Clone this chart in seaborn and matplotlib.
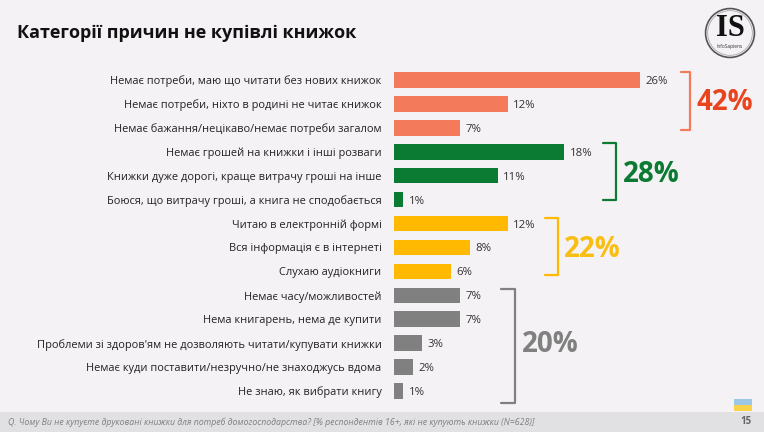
import matplotlib
matplotlib.use("Agg")
import matplotlib.pyplot as plt
from matplotlib.patches import Rectangle, Circle
import seaborn as sns
import pandas as pd

# Data
categories = [
    "Немає потреби, маю що читати без нових книжок",
    "Немає потреби, ніхто в родині не читає книжок",
    "Немає бажання/нецікаво/немає потреби загалом",
    "Немає грошей на книжки і інші розваги",
    "Книжки дуже дорогі, краще витрачу гроші на інше",
    "Боюся, що витрачу гроші, а книга не сподобається",
    "Читаю в електронній формі",
    "Вся інформація є в інтернеті",
    "Слухаю аудіокниги",
    "Немає часу/можливостей",
    "Нема книгарень, нема де купити",
    "Проблеми зі здоров'ям не дозволяють читати/купувати книжки",
    "Немає куди поставити/незручно/не знаходжусь вдома",
    "Не знаю, як вибрати книгу",
]
values = [26, 12, 7, 18, 11, 1, 12, 8, 6, 7, 7, 3, 2, 1]
groups = ["need"] * 3 + ["money"] * 3 + ["digital"] * 3 + ["other"] * 5
group_names = ["need", "money", "digital", "other"]
group_totals = [42, 28, 22, 20]

bar_colors = {"need": "#F47A5C", "money": "#0B7A33", "digital": "#FFB900", "other": "#808080"}
big_colors = ["#E8441E", "#0B7A33", "#F9BE14", "#808080"]

df = pd.DataFrame({"category": categories, "value": values, "group": groups})

sns.set_theme(style="white")
plt.rcParams["font.family"] = ["Open Sans", "DejaVu Sans"]
bg = "#F5F2F5"

fig = plt.figure(figsize=(7.64, 4.32), dpi=100, facecolor=bg)
ax = fig.add_axes([394 / 764, 1 - 403 / 432, 370 / 764, 335 / 432])
ax.set_facecolor(bg)

sns.barplot(data=df, x="value", y="category", hue="group", palette=bar_colors,
            dodge=False, width=0.65, legend=False, ax=ax, saturation=1, linewidth=0)

ax.set_xlim(0, 370 / 9.46)
ax.set_ylim(len(categories) - 0.5, -0.5)
ax.set_xlabel("")
ax.set_ylabel("")
ax.set_xticks([])
for s in ax.spines.values():
    s.set_visible(False)
ax.tick_params(axis="y", length=0, pad=9, labelsize=7.95, labelcolor="#222222")

# value labels
for i, v in enumerate(values):
    ax.text(v + 0.55, i, f"{v}%", va="center_baseline", ha="left", fontsize=8.2, color="#333333")

# brackets with group totals
brackets = [
    # x, y top, y bottom, tick length, text x, text y
    (31.3, -0.33, 2.09, 0.95, 32.0, 0.95),
    (23.5, 2.63, 5.02, 1.4, 24.2, 3.97),
    (17.3, 5.77, 8.15, 1.3, 18.0, 7.07),
    (12.8, 8.74, 13.5, 1.5, 13.5, 11.04),
]
for (bx, y0, y1, tl, tx, ty), g, tot, c in zip(brackets, group_names, group_totals, big_colors):
    lc = bar_colors[g]
    ax.plot([bx - tl, bx, bx, bx - tl], [y0, y0, y1, y1], color=lc, lw=1.6,
            solid_capstyle="round", solid_joinstyle="round", clip_on=False)
    ax.text(tx, ty, f"{tot}%", color=c, fontsize=20, fontweight="bold",
            va="center", ha="left")

# title
fig.text(17 / 764, 1 - 33 / 432, "Категорії причин не купівлі книжок",
         fontsize=13, fontweight="bold", color="#111111", va="center", ha="left")

# logo
lax = fig.add_axes([704 / 764, 1 - 59 / 432, 52 / 764, 52 / 432])
lax.set_xlim(0, 1)
lax.set_ylim(0, 1)
lax.set_aspect("equal")
lax.axis("off")
lax.add_patch(Circle((0.5, 0.5), 0.47, fill=False, ec="#555555", lw=1.2))
lax.add_patch(Circle((0.5, 0.5), 0.43, fill=False, ec="#aaaaaa", lw=0.6))
lax.text(0.5, 0.58, "IS", ha="center", va="center", fontsize=22,
         family="Liberation Serif", fontweight="bold", color="#111111")
lax.text(0.5, 0.24, "InfoSapiens", ha="center", va="center", fontsize=3.5, color="#333333")

# footer
fig.patches.append(Rectangle((0, 0), 1, 20 / 432, transform=fig.transFigure,
                             facecolor="#E1E1E4", edgecolor="none", zorder=0))
fig.text(8 / 764, 10 / 432,
         "Q. Чому Ви не купуєте друковані книжки для потреб домогосподарства? "
         "[% респондентів 16+, які не купують книжки (N=628)]",
         fontsize=6.3, style="italic", color="#808080", va="center", ha="left")
fig.text(746 / 764, 10 / 432, "15", fontsize=7, fontweight="bold", color="#666666",
         va="center", ha="center")
fig.patches.append(Rectangle((734 / 764, 21 / 432), 18 / 764, 6 / 432, transform=fig.transFigure,
                             facecolor="#F7D24A", edgecolor="none"))
fig.patches.append(Rectangle((734 / 764, 27 / 432), 18 / 764, 6 / 432, transform=fig.transFigure,
                             facecolor="#9CC8E8", edgecolor="none"))

fig.savefig("out.png", dpi=100, facecolor=bg)
